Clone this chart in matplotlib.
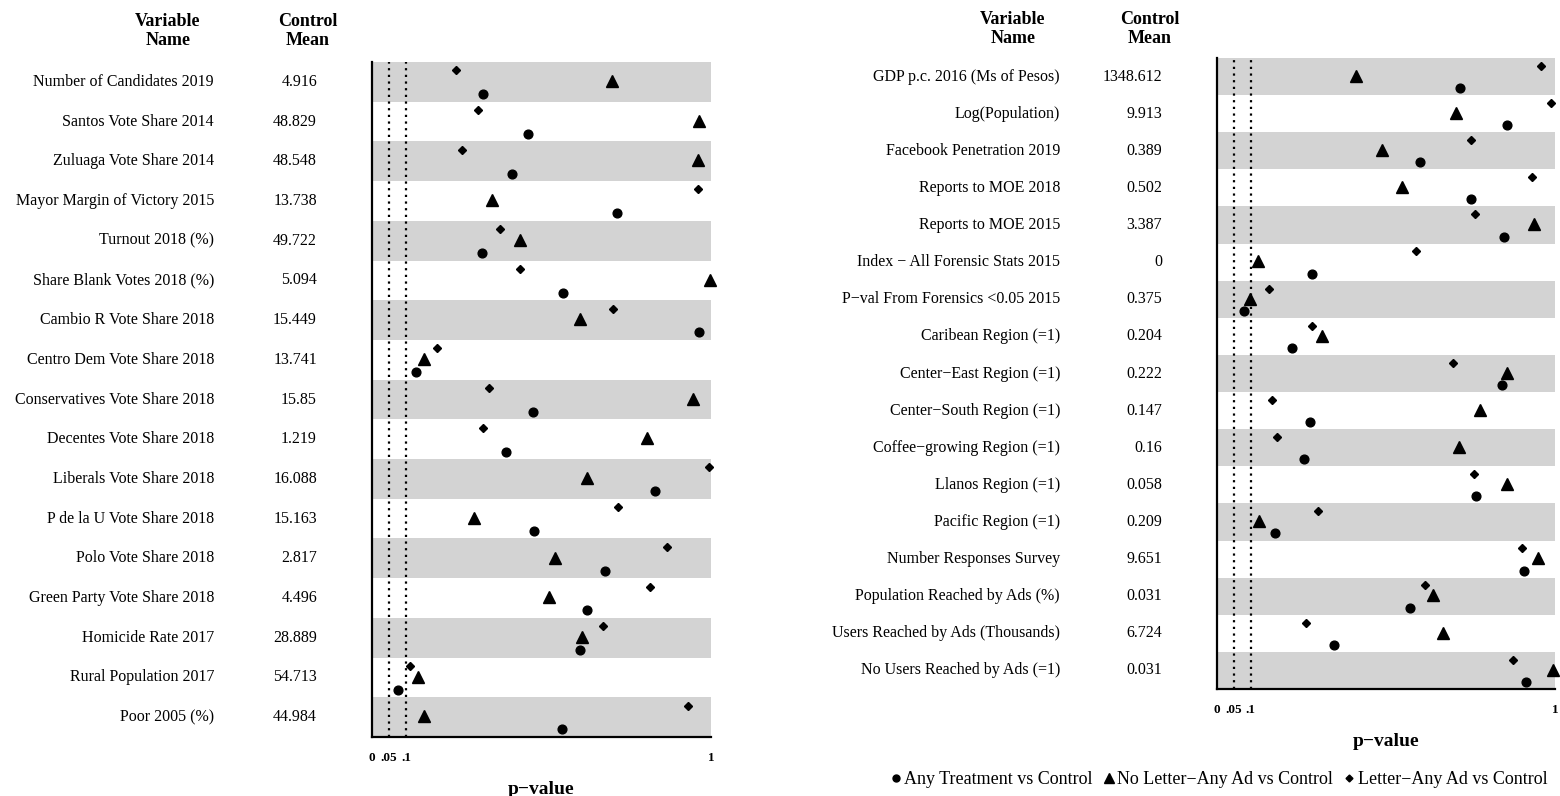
import matplotlib
matplotlib.use("Agg")
import matplotlib.pyplot as plt
from matplotlib.lines import Line2D
from matplotlib.transforms import blended_transform_factory

plt.rcParams['font.family'] = ['Liberation Serif', 'DejaVu Serif']

# left panel
left_names = ["Number of Candidates 2019", "Santos Vote Share 2014", "Zuluaga Vote Share 2014",
              "Mayor Margin of Victory 2015", "Turnout 2018 (%)", "Share Blank Votes 2018 (%)",
              "Cambio R Vote Share 2018", "Centro Dem Vote Share 2018", "Conservatives Vote Share 2018",
              "Decentes Vote Share 2018", "Liberals Vote Share 2018", "P de la U Vote Share 2018",
              "Polo Vote Share 2018", "Green Party Vote Share 2018", "Homicide Rate 2017",
              "Rural Population 2017", "Poor 2005 (%)"]
left_means = ["4.916", "48.829", "48.548", "13.738", "49.722", "5.094", "15.449", "13.741", "15.85",
              "1.219", "16.088", "15.163", "2.817", "4.496", "28.889", "54.713", "44.984"]
left_any = [0.328, 0.461, 0.414, 0.724, 0.324, 0.563, 0.965, 0.130, 0.476, 0.396, 0.836, 0.479,
            0.687, 0.635, 0.613, 0.076, 0.560]
left_noletter = [0.707, 0.966, 0.963, 0.354, 0.438, 0.997, 0.614, 0.154, 0.948, 0.811, 0.633, 0.302,
                 0.541, 0.522, 0.619, 0.135, 0.154]
left_letter = [0.248, 0.312, 0.265, 0.961, 0.377, 0.438, 0.712, 0.192, 0.344, 0.328, 0.995, 0.726,
               0.870, 0.821, 0.682, 0.113, 0.932]

# right panel
right_names = ["GDP p.c. 2016 (Ms of Pesos)", "Log(Population)", "Facebook Penetration 2019",
               "Reports to MOE 2018", "Reports to MOE 2015", "Index \u2212 All Forensic Stats 2015",
               "P\u2212val From Forensics <0.05 2015", "Caribean Region (=1)", "Center\u2212East Region (=1)",
               "Center\u2212South Region (=1)", "Coffee\u2212growing Region (=1)", "Llanos Region (=1)",
               "Pacific Region (=1)", "Number Responses Survey", "Population Reached by Ads (%)",
               "Users Reached by Ads (Thousands)", "No Users Reached by Ads (=1)"]
right_means = ["1348.612", "9.913", "0.389", "0.502", "3.387", "0", "0.375", "0.204", "0.222",
               "0.147", "0.16", "0.058", "0.209", "9.651", "0.031", "6.724", "0.031"]
right_any = [0.719, 0.859, 0.600, 0.750, 0.849, 0.281, 0.080, 0.222, 0.842, 0.274, 0.258, 0.766,
             0.171, 0.907, 0.571, 0.345, 0.913]
right_noletter = [0.411, 0.708, 0.488, 0.546, 0.938, 0.120, 0.097, 0.311, 0.858, 0.778, 0.717, 0.857,
                  0.125, 0.951, 0.638, 0.668, 0.995]
right_letter = [0.959, 0.988, 0.751, 0.931, 0.762, 0.589, 0.155, 0.280, 0.698, 0.163, 0.178, 0.759,
                0.300, 0.901, 0.616, 0.263, 0.877]

W, H = 1560, 796
fig = plt.figure(figsize=(15.6, 7.96), dpi=100)


def panel(box, names, means, p_any, p_nol, p_let, name_x, mean_x, head_name_x, head_mean_x, head_y):
    x0, x1, y0, y1 = box
    ax = fig.add_axes([x0 / W, 1 - y1 / H, (x1 - x0) / W, (y1 - y0) / H])
    n = len(names)
    rows = list(range(n))
    for i in rows:
        if i % 2 == 0:
            ax.axhspan(i - 0.5, i + 0.5, color='#d3d3d3', lw=0, zorder=0)
    for v in [0.05, 0.1]:
        ax.axvline(v, color='black', ls=(0, (1, 2)), lw=1.6, zorder=1)
    ax.plot(p_let, [i - 0.29 for i in rows], 'D', color='black', ms=4.3, ls='none', zorder=3, clip_on=False)
    ax.plot(p_nol, [i - 0.02 for i in rows], '^', color='black', ms=8.5, ls='none', zorder=3, clip_on=False)
    ax.plot(p_any, [i + 0.31 for i in rows], 'o', color='black', ms=6.3, ls='none', zorder=3, clip_on=False)
    ax.set_xlim(0, 1)
    ax.set_ylim(n - 0.5, -0.5)
    ax.set_yticks([])
    ax.set_xticks([0, 0.05, 0.1, 1])
    ax.set_xticklabels(['0', '.05', '.1', '1'], fontweight='bold', fontsize=9.5)
    ax.tick_params(axis='x', length=0, pad=11)
    ax.spines['top'].set_visible(False)
    ax.spines['right'].set_visible(False)
    ax.spines['left'].set_linewidth(1.6)
    ax.spines['bottom'].set_linewidth(1.6)
    ax.set_xlabel('p\u2212value', fontweight='bold', fontsize=14, labelpad=12)

    tr = blended_transform_factory(fig.transFigure, ax.transData)
    for i in rows:
        ax.text(name_x / W, i, names[i], transform=tr, ha='right', va='center', fontsize=11.5)
        ax.text(mean_x / W, i, means[i], transform=tr, ha='right', va='center', fontsize=11.5)
    fig.text(head_name_x / W, 1 - head_y / H, 'Variable\nName', ha='center', va='center',
             fontweight='bold', fontsize=13, linespacing=1.2)
    fig.text(head_mean_x / W, 1 - head_y / H, 'Control\nMean', ha='center', va='center',
             fontweight='bold', fontsize=13, linespacing=1.2)
    return ax


panel((372, 711, 62, 737), left_names, left_means, left_any, left_noletter, left_letter,
      214, 317, 168, 308, 31)
panel((1217, 1555, 58, 689), right_names, right_means, right_any, right_noletter, right_letter,
      1060, 1162, 1013, 1150, 29)

handles = [
    Line2D([], [], marker='o', color='black', ls='none', ms=5),
    Line2D([], [], marker='^', color='black', ls='none', ms=7),
    Line2D([], [], marker='D', color='black', ls='none', ms=3.5),
]
fig.legend(handles, ['Any Treatment vs Control', 'No Letter\u2212Any Ad vs Control',
                     'Letter\u2212Any Ad vs Control'],
           loc='center', bbox_to_anchor=(1219 / W, 1 - 780 / H), ncol=3, frameon=False,
           fontsize=13, handlelength=0.6, handletextpad=0.15, columnspacing=0.6)

fig.savefig('out.png', dpi=100)
